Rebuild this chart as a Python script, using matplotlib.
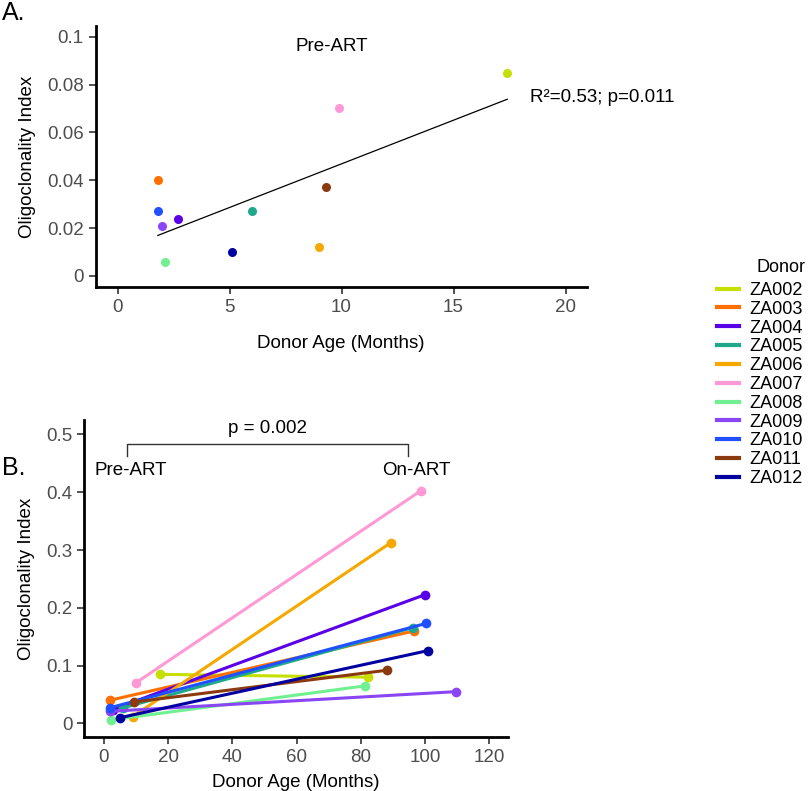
import numpy as np
import matplotlib.pyplot as plt
from matplotlib.lines import Line2D

plt.rcParams['font.family'] = ['Liberation Sans', 'DejaVu Sans']

donors = ['ZA002', 'ZA003', 'ZA004', 'ZA005', 'ZA006', 'ZA007',
          'ZA008', 'ZA009', 'ZA010', 'ZA011', 'ZA012']
colors = ['#C5E000', '#FF7000', '#5A00E8', '#20A88A', '#F5A800', '#FF99D5',
          '#70F090', '#8A45F5', '#2050FF', '#8B3A10', '#0000A0']

# pre-ART age (months) and oligoclonality index
pre_age = [17.4, 1.8, 2.7, 6.0, 9.0, 9.9, 2.1, 2.0, 1.8, 9.3, 5.1]
pre_oci = [0.085, 0.040, 0.024, 0.027, 0.012, 0.070, 0.006, 0.021, 0.027, 0.037, 0.010]
# on-ART
on_age = [82.2, 96.6, 100.1, 96.4, 89.4, 98.8, 81.3, 109.6, 100.3, 88.1, 100.9]
on_oci = [0.080, 0.160, 0.223, 0.166, 0.313, 0.403, 0.065, 0.055, 0.173, 0.092, 0.126]

fig = plt.figure(figsize=(8.1, 7.91), dpi=100)

def style(ax):
    for s in ['top', 'right']:
        ax.spines[s].set_visible(False)
    for s in ['left', 'bottom']:
        ax.spines[s].set_linewidth(2)
    ax.tick_params(labelsize=13.5, labelcolor='#4D4D4D', color='#333333', width=1.2, length=5)

# ---- panel A
axA = fig.add_axes([0.118, 0.6372, 0.6062, 0.33])
for x, y, c in zip(pre_age, pre_oci, colors):
    axA.plot(x, y, 'o', color=c, markersize=6.5, markeredgewidth=0)
k, b = np.polyfit(pre_age, pre_oci, 1)
xs = np.array([min(pre_age), max(pre_age)])
axA.plot(xs, k * xs + b, color='black', linewidth=0.9)
axA.set_xlim(-0.98, 20.94)
axA.set_ylim(-0.0046, 0.1045)
axA.set_xticks([0, 5, 10, 15, 20])
axA.set_yticks([0, 0.02, 0.04, 0.06, 0.08, 0.1])
axA.set_yticklabels(['0', '0.02', '0.04', '0.06', '0.08', '0.1'])
axA.set_xlabel('Donor Age (Months)', fontsize=13.5, labelpad=14)
axA.set_ylabel('Oligoclonality Index', fontsize=13.5, labelpad=8)
axA.text(9.57, 0.0958, 'Pre-ART', fontsize=13.5, ha='center', va='center')
axA.text(18.4, 0.0747, 'R\u00b2=0.53; p=0.011', fontsize=13.5, ha='left', va='center')
style(axA)

# ---- panel B
axB = fig.add_axes([0.104, 0.0686, 0.523, 0.4004])
for i in range(len(donors)):
    axB.plot([pre_age[i], on_age[i]], [pre_oci[i], on_oci[i]], '-o', color=colors[i],
             linewidth=2.2, markersize=7, markeredgewidth=0)
axB.plot([7.2, 7.2, 94.8, 94.8], [0.462, 0.483, 0.483, 0.462], color='#333333', linewidth=1)
axB.text(51.0, 0.510, 'p = 0.002', fontsize=13.5, ha='center', va='center')
axB.text(8.4, 0.438, 'Pre-ART', fontsize=13.5, ha='center', va='center')
axB.text(97.4, 0.438, 'On-ART', fontsize=13.5, ha='center', va='center')
axB.set_xlim(-6.1, 125.8)
axB.set_ylim(-0.023, 0.525)
axB.set_xticks([0, 20, 40, 60, 80, 100, 120])
axB.set_yticks([0, 0.1, 0.2, 0.3, 0.4, 0.5])
axB.set_yticklabels(['0', '0.1', '0.2', '0.3', '0.4', '0.5'])
axB.set_xlabel('Donor Age (Months)', fontsize=13.5, labelpad=6)
axB.set_ylabel('Oligoclonality Index', fontsize=13.5, labelpad=8)
style(axB)

fig.text(0.003, 0.9747, 'A.', fontsize=18, ha='left', va='baseline')
fig.text(0.003, 0.3995, 'B.', fontsize=18, ha='left', va='baseline')

# legend (title placed separately so it lines up with the labels)
fig.text(756 / 810, 1 - 267 / 791, 'Donor', fontsize=13, ha='left', va='center')
handles = [Line2D([0], [0], color=c, linewidth=3) for c in colors]
leg = fig.legend(handles, donors, loc='upper left',
                 bbox_to_anchor=(0.885, 1 - 282 / 791), frameon=False, fontsize=13,
                 handlelength=1.25, handletextpad=0.55,
                 labelspacing=0.1, borderaxespad=0, borderpad=0)

fig.savefig('out.png', dpi=100)
